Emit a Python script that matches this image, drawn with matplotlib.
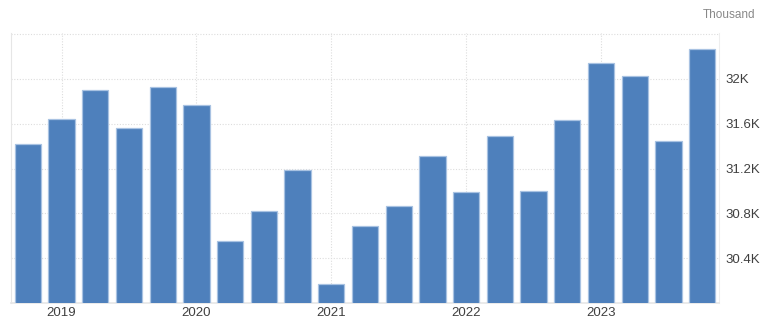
import matplotlib
matplotlib.use("Agg")
import matplotlib.pyplot as plt

plt.rcParams['font.family'] = ['Liberation Sans', 'DejaVu Sans']

# Quarterly values (thousand), Q4 2018 .. Q4 2023
quarters = ["Q4 2018", "Q1 2019", "Q2 2019", "Q3 2019", "Q4 2019",
            "Q1 2020", "Q2 2020", "Q3 2020", "Q4 2020",
            "Q1 2021", "Q2 2021", "Q3 2021", "Q4 2021",
            "Q1 2022", "Q2 2022", "Q3 2022", "Q4 2022",
            "Q1 2023", "Q2 2023", "Q3 2023", "Q4 2023"]
values = [31.42, 31.64, 31.90, 31.56, 31.93,
          31.77, 30.55, 30.82, 31.19,
          30.17, 30.69, 30.87, 31.31,
          30.99, 31.49, 31.00, 31.63,
          32.14, 32.03, 31.45, 32.27]
year_labels = ["2019", "2020", "2021", "2022", "2023"]
year_positions = ["Q1 2019", "Q1 2020", "Q1 2021", "Q1 2022", "Q1 2023"]
ytick_values = [30.4, 30.8, 31.2, 31.6, 32.0, 32.4]
ytick_labels = ["30.4K", "30.8K", "31.2K", "31.6K", "32K", ""]

fig = plt.figure(figsize=(7.68, 3.31), dpi=100)
ax = fig.add_axes([11/768, 28/331, (719-11)/768, (303-33)/331])

x = list(range(len(values)))
ax.bar(x, values, width=0.78, bottom=0, color="#4e80bc",
       edgecolor="#a8c2e2", linewidth=0.9, zorder=3)

ax.set_xlim(-0.5, len(values) - 0.5)
ax.set_ylim(30.0, 32.41)

xt = [quarters.index(q) for q in year_positions]
ax.set_xticks(xt)
ax.set_xticklabels(year_labels, fontsize=9.5, color="#404040")
ax.set_yticks(ytick_values)
ax.set_yticklabels(ytick_labels, fontsize=9.5, color="#404040")
ax.yaxis.tick_right()
ax.tick_params(axis='both', length=0, pad=3)
ax.tick_params(axis='y', pad=5)

ax.grid(True, which='major', axis='both', linestyle=(0, (1, 1.5)),
        color="#dddddd", linewidth=0.8, zorder=0)

for s in ["top"]:
    ax.spines[s].set_visible(False)
ax.spines["left"].set_color("#e6e6e6")
ax.spines["right"].set_color("#eeeeee")
ax.spines["bottom"].set_color("#e6e6e6")
ax.spines["bottom"].set_linewidth(1.2)

fig.text(755/768, 1 - 15/331, "Thousand", ha="right", va="center",
         fontsize=8.5, color="#888888")

fig.savefig("out.png", dpi=100)
